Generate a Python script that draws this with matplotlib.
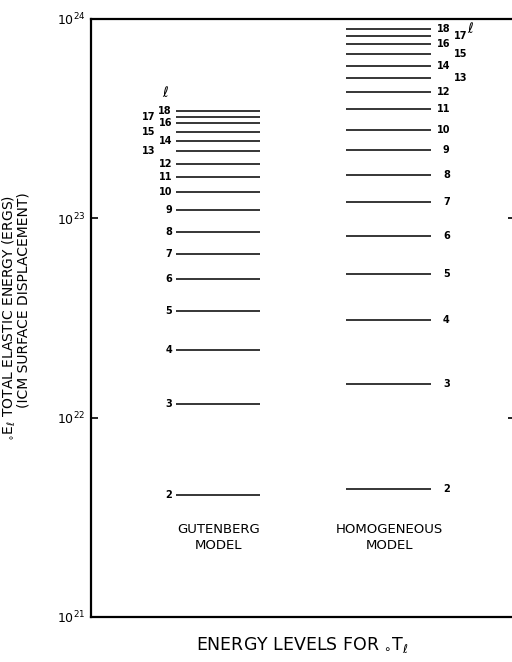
import matplotlib.pyplot as plt
from matplotlib.ticker import LogLocator, NullLocator

# angular order l of the fundamental toroidal modes
orders = list(range(2, 19))

# total elastic energy (ergs) per mode, 1 cm surface displacement
gutenberg_energy = [4.09e21, 1.17e22, 2.18e22, 3.43e22, 4.96e22, 6.62e22,
                    8.54e22, 1.10e23, 1.36e23, 1.61e23, 1.87e23, 2.18e23,
                    2.44e23, 2.71e23, 3.01e23, 3.22e23, 3.45e23]
homogeneous_energy = [4.39e21, 1.48e22, 3.09e22, 5.26e22, 8.15e22, 1.21e23,
                      1.65e23, 2.20e23, 2.77e23, 3.54e23, 4.30e23, 5.06e23,
                      5.81e23, 6.67e23, 7.50e23, 8.22e23, 8.91e23]

model_names = ["GUTENBERG\nMODEL", "HOMOGENEOUS\nMODEL"]

plt.rcParams['font.family'] = ['DejaVu Sans']
plt.rcParams['mathtext.fontset'] = 'dejavusans'

fig = plt.figure(figsize=(5.12, 6.62), dpi=100)
ax = fig.add_axes([91 / 512, 45 / 662, 424 / 512, 598 / 662])

ax.set_yscale('log')
ax.set_ylim(1e21, 1e24)
ax.set_xlim(0, 1)

# energy levels
ax.hlines(gutenberg_energy, 0.200, 0.399, color='black', lw=1.1)
ax.hlines(homogeneous_energy, 0.601, 0.802, color='black', lw=1.1)

num_kw = dict(fontsize=7, fontweight='bold', va='center')
for l, e in zip(orders, gutenberg_energy):
    if l in (13, 15, 17):
        ax.text(0.151, e, str(l), ha='right', **num_kw)
    else:
        ax.text(0.191, e, str(l), ha='right', **num_kw)
for l, e in zip(orders, homogeneous_energy):
    if l in (13, 15, 17):
        ax.text(0.856, e, str(l), ha='left', **num_kw)
    elif l >= 10:
        ax.text(0.816, e, str(l), ha='left', **num_kw)
    else:
        ax.text(0.830, e, str(l), ha='left', **num_kw)

ax.text(0.175, 4.26e23, r'$\ell$', ha='center', va='center', fontsize=10,
        fontweight='bold')
ax.text(0.894, 9.0e23, r'$\ell$', ha='center', va='center', fontsize=10,
        fontweight='bold')

for x, name in zip([0.300, 0.704], model_names):
    ax.text(x, 2.5e21, name, ha='center', va='center', fontsize=9.5,
            linespacing=1.3)

# axes frame
for side in ('left', 'top', 'bottom'):
    ax.spines[side].set_linewidth(1.6)
ax.spines['right'].set_visible(False)
ax.xaxis.set_major_locator(NullLocator())
ax.yaxis.set_major_locator(LogLocator(base=10, numticks=10))
ax.yaxis.set_minor_locator(NullLocator())
ax.tick_params(axis='y', which='major', direction='in', length=5, width=1.2,
               labelsize=9, right=True, pad=4)

fig.text(9 / 512, 0.5 - (318 - 331) / 662,
         r'${}_{\circ}\mathrm{E}_{\ell}$ TOTAL ELASTIC ENERGY (ERGS)',
         rotation=90, ha='center', va='center', fontsize=10)
fig.text(24 / 512, 0.5 - (300 - 331) / 662, '(ICM SURFACE DISPLACEMENT)',
         rotation=90, ha='center', va='center', fontsize=10)
fig.text(302 / 512, 1 - 645 / 662,
         r'ENERGY LEVELS FOR ${}_{\circ}\mathrm{T}_{\ell}$',
         ha='center', va='center', fontsize=12.5)

fig.savefig('out.png', dpi=100)
